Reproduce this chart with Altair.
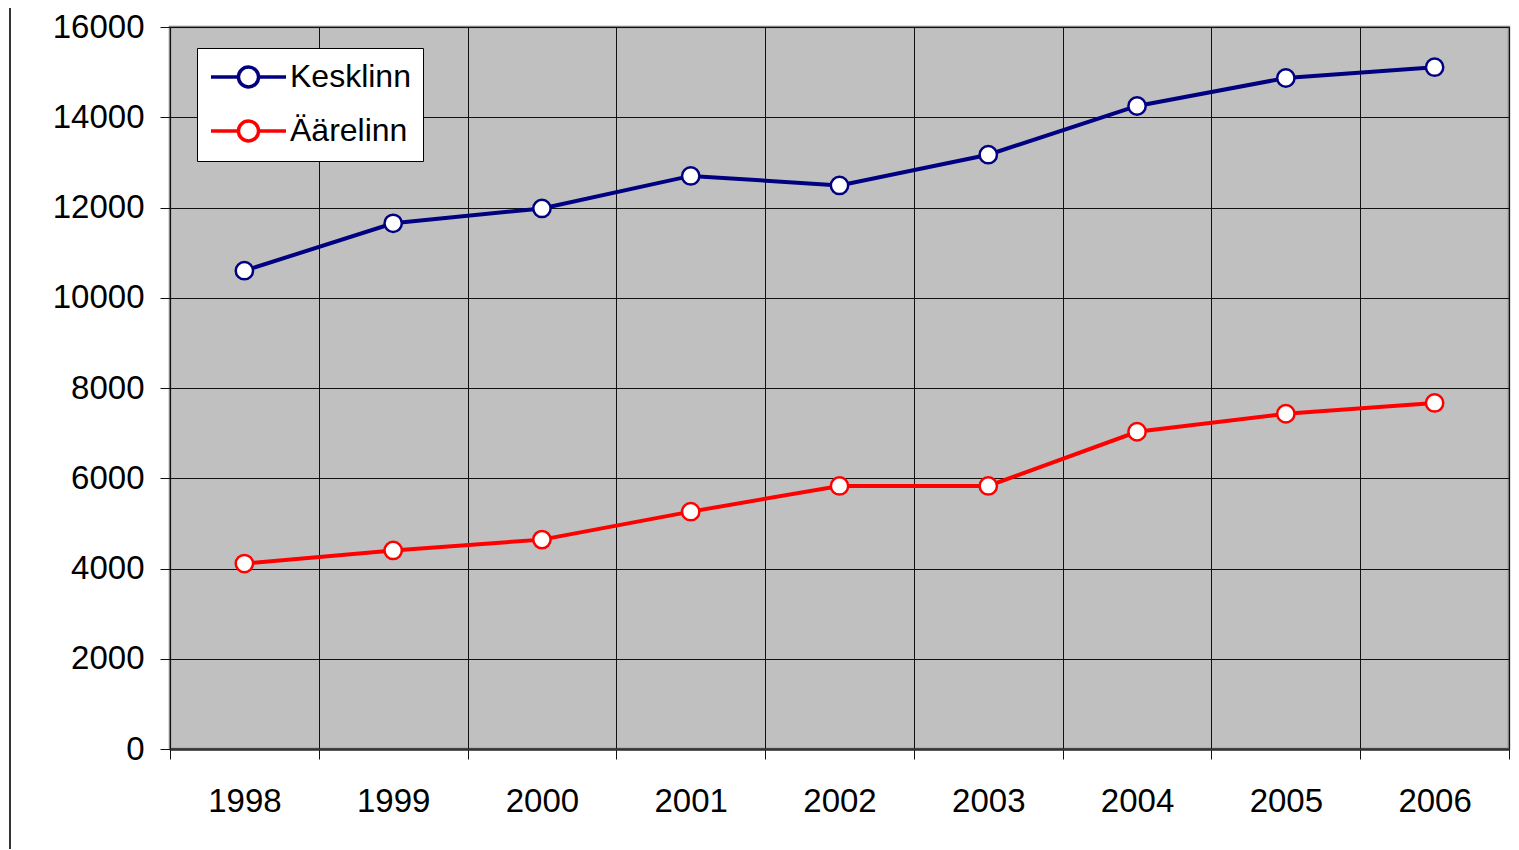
import altair as alt
import pandas as pd

years = ["1998", "1999", "2000", "2001", "2002", "2003", "2004", "2005", "2006"]
kesklinn = [10600, 11650, 11980, 12700, 12490, 13170, 14250, 14870, 15110]
aarelinn = [4110, 4400, 4640, 5260, 5830, 5830, 7030, 7430, 7670]
series = ["Kesklinn", "Äärelinn"]
colors = ["#000080", "#FF0000"]

rows = []
for y, k, a in zip(years, kesklinn, aarelinn):
    rows.append({"year": y, "value": k, "series": series[0]})
    rows.append({"year": y, "value": a, "series": series[1]})
df = pd.DataFrame(rows)

FONT = "Liberation Sans"
# legend glyph: line with an open circle in the middle (unit = 15 px)
sym = ("M-1,0H0.83M2.17,0H4"
       "M2.17,0A0.67,0.67,0,1,1,0.83,0A0.67,0.67,0,1,1,2.17,0Z")

x = alt.X("year:N", sort=years, title=None,
          scale=alt.Scale(paddingInner=0, paddingOuter=0),
          axis=alt.Axis(labelAngle=0, tickBand="extent", grid=True,
                        gridColor="#111", gridWidth=1,
                        tickColor="#111", tickSize=10, domainColor="#333",
                        domainWidth=2.5, labelFontSize=33, labelFont=FONT,
                        labelColor="black", labelPadding=26))
y = alt.Y("value:Q", title=None,
          scale=alt.Scale(domain=[0, 16000], nice=False),
          axis=alt.Axis(values=list(range(0, 16001, 2000)), format="d",
                        grid=True, gridColor="#111", gridWidth=1,
                        tickColor="#111", tickSize=10, domain=False,
                        labelFontSize=33, labelFont=FONT, labelColor="black",
                        labelPadding=16))
color = alt.Color("series:N", sort=series,
                  scale=alt.Scale(domain=series, range=colors),
                  legend=alt.Legend(title=None, orient="none", legendX=27,
                                    legendY=21, fillColor="white",
                                    strokeColor="black", padding=12,
                                    labelFontSize=32, labelFont=FONT,
                                    labelColor="black", symbolType=sym,
                                    symbolSize=900, symbolStrokeWidth=3.5,
                                    symbolFillColor="white", rowPadding=18,
                                    labelOffset=47))

base = alt.Chart(df)
lines = base.mark_line(strokeWidth=4).encode(x=x, y=y, color=color)
points = base.mark_point(filled=False, fill="white", fillOpacity=1,
                         size=300, strokeWidth=2.5, opacity=1).encode(
    x=x, y=y, color=color)

border = alt.Chart(pd.DataFrame({"a": [0]})).mark_rule(
    color="#333", strokeWidth=2).encode(
    x=alt.value(-160), y=alt.value(-19), y2=alt.value(860))

chart = alt.layer(lines, points, border).properties(
    width=1339, height=722,
    autosize=alt.AutoSizeParams(type="none"),
    padding={"left": 162, "top": 19, "right": 2, "bottom": 100},
).configure_view(fill="#C0C0C0", stroke="#808080", strokeWidth=2.5)

chart.save("out.html", embed_options={"renderer": "svg", "actions": False})
